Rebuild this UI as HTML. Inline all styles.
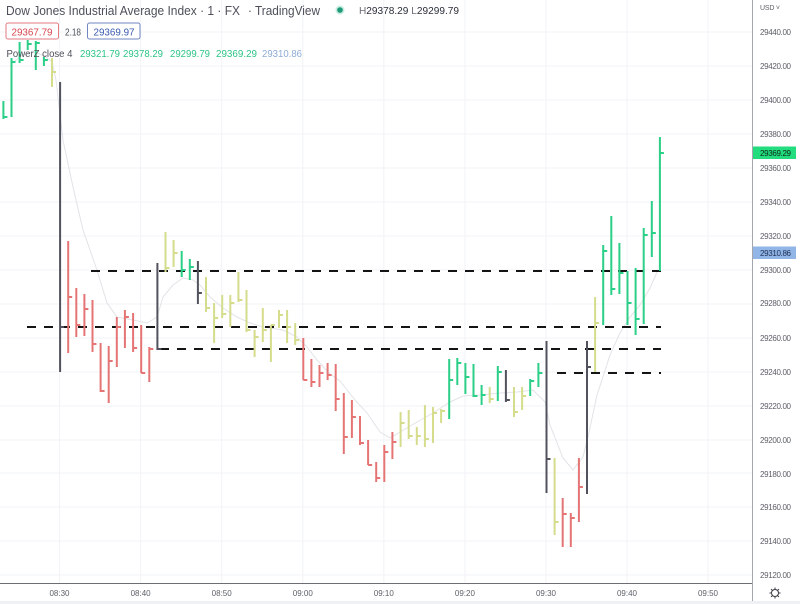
<!DOCTYPE html>
<html><head><meta charset="utf-8"><style>
html,body{margin:0;padding:0;background:#fff;}
svg{display:block;font-family:"Liberation Sans",sans-serif;}
</style></head><body>
<svg width="800" height="604" viewBox="0 0 800 604" xmlns="http://www.w3.org/2000/svg">
<rect width="800" height="604" fill="#fff"/>
<!-- grid -->
<g stroke="#f1f3f7" stroke-width="1">
<path d="M0 32H752M0 66H752M0 100H752M0 134H752M0 168H752M0 202H752M0 236H752M0 270H752M0 304H752M0 338H752M0 372H752M0 406H752M0 440H752M0 473H752M0 507H752M0 541H752M0 575H752"/>
<path d="M59.5 0V583M140.6 0V583M221.7 0V583M302.8 0V583M383.8 0V583M464.9 0V583M546 0V583M627 0V583M708 0V583"/>
</g>
<!-- smoothing line -->
<polyline fill="none" stroke="#e2e3e8" stroke-width="1" points="13,63 22,55 33,52 45,56 52,62 56,80 63,140 73,187 83,230 97,270 107,303 117,317 133,320 147,323 157,317 163,297 173,285 183,278 193,280 200,285 210,297 223,308 237,317 250,323 263,327 283,330 297,337 307,347 317,360 330,374 340,381 355,400 367,413 380,432 390,438 400,432 417,422 433,413 450,402 463,396 480,395 500,393 517,392 533,390 545,402 550,425 563,458 573,470 583,457 588,437 597,395 610,355 620,333 630,317 640,305 650,288 658,270"/>
<!-- dashed lines -->
<g stroke="#141414" stroke-width="2" stroke-dasharray="9 8" fill="none">
<path d="M91 271H661"/>
<path d="M27 327H661"/>
<path d="M160 349H661"/>
<path d="M557 373H661"/>
</g>
<!-- bars -->
<g transform="translate(0.6,0)" stroke-width="2" fill="none" stroke-linecap="butt">
<path stroke="#2bcf87" d="M2.8 101V119M2.8 117H6.8M10.9 58V117M10.9 62H14.9M19 42V63M19 60H23M27.1 40V50M27.1 44H31.1M35.2 41V70M35.2 43H39.2M43.3 57V66M43.3 60H47.3M181.1 251V277M181.1 270H185.1M189.2 259V280M189.2 267H193.2M448.6 359V419M448.6 380H452.6M456.7 358V385M456.7 363H460.7M464.8 363V394M464.8 377H468.8M472.9 364V397M472.9 396H476.9M481 385V405M481 395H485M497.2 366V401M497.2 372H501.2M529.6 379V396M529.6 381H533.6M537.8 363V387M537.8 373H541.8M602.6 245V325M602.6 251H606.6M610.7 216V295M610.7 289H614.7M618.8 243V294M618.8 273H622.8M626.9 271V325M626.9 303H630.9M635 268V335M635 319H639M643.1 228V324M643.1 235H647.1M651.2 201V257M651.2 233H655.2M659.3 137V271M659.3 153H663.3"/>
<path stroke="#d5dc8c" d="M51.4 58V87M51.4 72H55.4M164.9 232V272M164.9 268H168.9M173 240V267M173 253H177M205.4 277V312M205.4 308H209.4M213.5 303V343M213.5 318H217.5M221.6 295V318M221.6 314H225.6M229.7 295V327M229.7 303H233.7M237.8 272V302M237.8 300H241.8M245.9 290V332M245.9 330H249.9M254 330V357M254 337H258M262.2 308V342M262.2 330H266.2M270.3 325V362M270.3 325H274.3M278.4 310V328M278.4 315H282.4M286.5 310V343M286.5 327H290.5M294.6 323V345M294.6 340H298.6M400 412V447M400 423H404M408.1 410V439M408.1 436H412.1M416.2 427V445M416.2 436H420.2M424.3 405V447M424.3 439H428.3M432.4 407V443M432.4 413H436.4M440.5 409V423M440.5 411H444.5M489.1 387V403M489.1 399H493.1M513.4 387V417M513.4 412H517.4M521.5 387V410M521.5 396H525.5M554 458V535M554 522H558M594.5 297V372M594.5 323H598.5"/>
<path stroke="#e57575" d="M67.6 241V353M67.6 297H71.6M75.7 288V337M75.7 325H79.7M83.8 294V336M83.8 309H87.8M91.9 300V352M91.9 344H95.9M100 343V392M100 391H104M108.1 346V403M108.1 361H112.1M116.2 317V367M116.2 327H120.2M124.3 310V348M124.3 317H128.3M132.5 313V352M132.5 348H136.5M140.6 325V373M140.6 373H144.6M148.7 347V382M148.7 349H152.7M302.7 338V380M302.7 380H306.7M310.8 359V387M310.8 382H314.8M318.9 365V387M318.9 373H322.9M327 363V380M327 375H331M335.1 364V411M335.1 399H339.1M343.2 393V454M343.2 437H347.2M351.3 400V438M351.3 417H355.3M359.4 416V445M359.4 443H363.4M367.5 440V465M367.5 465H371.5M375.6 462V482M375.6 478H379.6M383.7 445V482M383.7 452H387.7M391.8 432V459M391.8 442H395.8M562.1 498V547M562.1 514H566.1M570.2 513V547M570.2 518H574.2M578.3 458V522M578.3 487H582.3"/>
<path stroke="#50535e" d="M59.5 82V372M59.5 327H63.5M156.8 263V350M156.8 349H160.8M197.3 261V304M197.3 293H201.3M505.3 370V402M505.3 400H509.3M545.9 341V493M545.9 459H549.9M586.4 341V494M586.4 367H590.4"/>
</g>
<!-- axes -->
<path d="M752.5 0V604" stroke="#a3a6ad" stroke-width="1"/>
<path d="M0 583.5H752" stroke="#6b6e75" stroke-width="1"/>
<rect x="0" y="601" width="800" height="3" fill="#eef0f3"/>
<g font-size="8" fill="#5d6069">
<text x="760" y="10" font-size="7" textLength="20">USD ˅</text>
<text x="760" y="35" textLength="31">29440.00</text>
<text x="760" y="69" textLength="31">29420.00</text>
<text x="760" y="103" textLength="31">29400.00</text>
<text x="760" y="137" textLength="31">29380.00</text>
<text x="760" y="171" textLength="31">29360.00</text>
<text x="760" y="205" textLength="31">29340.00</text>
<text x="760" y="239" textLength="31">29320.00</text>
<text x="760" y="273" textLength="31">29300.00</text>
<text x="760" y="306" textLength="31">29280.00</text>
<text x="760" y="341" textLength="31">29260.00</text>
<text x="760" y="375" textLength="31">29240.00</text>
<text x="760" y="409" textLength="31">29220.00</text>
<text x="760" y="443" textLength="31">29200.00</text>
<text x="760" y="477" textLength="31">29180.00</text>
<text x="760" y="510" textLength="31">29160.00</text>
<text x="760" y="544" textLength="31">29140.00</text>
<text x="760" y="578" textLength="31">29120.00</text>
</g>
<rect x="753" y="146.5" width="43" height="12.5" fill="#22dc7e"/>
<text x="760" y="156" font-size="8" fill="#0d2a18" textLength="31">29369.29</text>
<rect x="753" y="246.5" width="43" height="12.5" fill="#91b5e6"/>
<text x="760" y="256" font-size="8" fill="#1c2f55" textLength="31">29310.86</text>
<g font-size="8" fill="#5d6069" text-anchor="middle">
<text x="59.5" y="596">08:30</text>
<text x="140.6" y="596">08:40</text>
<text x="221.7" y="596">08:50</text>
<text x="302.8" y="596">09:00</text>
<text x="383.8" y="596">09:10</text>
<text x="464.9" y="596">09:20</text>
<text x="546" y="596">09:30</text>
<text x="627" y="596">09:40</text>
<text x="708" y="596">09:50</text>
</g>
<!-- gear -->
<g stroke="#3a3d44" stroke-width="1" fill="none">
<circle cx="775" cy="593" r="3.5"/>
<path d="M775 587.5V589.5M775 596.5V598.5M769.5 593H771.5M778.5 593H780.5M771.1 589.1L772.5 590.5M777.5 595.5L778.9 596.9M771.1 596.9L772.5 595.5M777.5 590.5L778.9 589.1"/>
</g>
<!-- header -->
<text x="6" y="15" font-size="12.5" fill="#4d505a" textLength="234" lengthAdjust="spacingAndGlyphs">Dow Jones Industrial Average Index · 1 · FX</text>
<text x="248" y="15" font-size="12.5" fill="#4d505a" textLength="72" lengthAdjust="spacingAndGlyphs">· TradingView</text>
<circle cx="340" cy="10" r="4.5" fill="#c9ece0"/>
<circle cx="340" cy="10" r="2.8" fill="#1f9a78"/>
<text x="359" y="14" font-size="10" fill="#2a2e39" textLength="100" lengthAdjust="spacingAndGlyphs"><tspan fill="#6a6d78">H</tspan>29378.29 <tspan fill="#6a6d78">L</tspan>29299.79</text>
<rect x="6" y="23" width="52.5" height="16" rx="2" fill="#fff" stroke="#e27a80" stroke-width="1"/>
<text x="11.5" y="35.5" font-size="10.5" fill="#d9464f" textLength="41" lengthAdjust="spacingAndGlyphs">29367.79</text>
<text x="65" y="35.5" font-size="10" fill="#4d505a" textLength="16" lengthAdjust="spacingAndGlyphs">2.18</text>
<rect x="87.5" y="23" width="52.5" height="16" rx="2" fill="#fff" stroke="#6f86c2" stroke-width="1"/>
<text x="93.5" y="35.5" font-size="10.5" fill="#3a5ab0" textLength="41" lengthAdjust="spacingAndGlyphs">29369.97</text>
<text x="6.5" y="57" font-size="10.5" fill="#4d505a" textLength="66" lengthAdjust="spacingAndGlyphs">PowerZ close 4</text>
<g font-size="10.5" fill="#2cc486">
<text x="80" y="57" textLength="40" lengthAdjust="spacingAndGlyphs">29321.79</text>
<text x="123" y="57" textLength="40" lengthAdjust="spacingAndGlyphs">29378.29</text>
<text x="170" y="57" textLength="40" lengthAdjust="spacingAndGlyphs">29299.79</text>
<text x="216" y="57" textLength="41" lengthAdjust="spacingAndGlyphs">29369.29</text>
</g>
<text x="262" y="57" font-size="10.5" fill="#8eacd6" textLength="40" lengthAdjust="spacingAndGlyphs">29310.86</text>
</svg>
</body></html>
